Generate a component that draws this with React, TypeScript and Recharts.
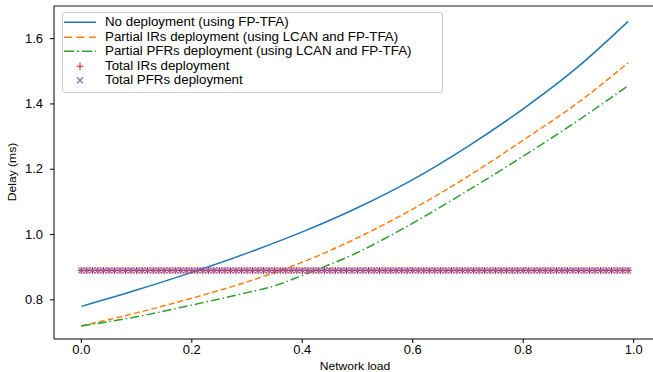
import React from 'react';
import { ComposedChart, Line, Scatter, XAxis, YAxis, ReferenceLine, Legend, Label } from 'recharts';

const FONT = '"Liberation Sans", Arial, Helvetica, sans-serif';

// Network load values for the curves
const loads = [0, 0.1, 0.2, 0.3, 0.4, 0.5, 0.6, 0.7, 0.8, 0.9, 0.99];
const noDeployment = [0.78, 0.83, 0.884, 0.943, 1.008, 1.082, 1.168, 1.27, 1.385, 1.515, 1.653];
const partialIRs = [0.72, 0.76, 0.805, 0.855, 0.915, 0.99, 1.078, 1.178, 1.289, 1.405, 1.526];
const pfrLoads = [0, 0.1, 0.2, 0.3, 0.35, 0.4, 0.5, 0.6, 0.7, 0.8, 0.9, 0.99];
const partialPFRs = [0.72, 0.748, 0.784, 0.822, 0.843, 0.875, 0.945, 1.035, 1.135, 1.24, 1.35, 1.456];

// Loads at which the total deployment markers are drawn
const markerLoads = [
  0, 0.01, 0.02, 0.03, 0.04, 0.05, 0.06, 0.07, 0.08, 0.09,
  0.1, 0.11, 0.12, 0.13, 0.14, 0.15, 0.16, 0.17, 0.18, 0.19,
  0.2, 0.21, 0.22, 0.23, 0.24, 0.25, 0.26, 0.27, 0.28, 0.29,
  0.3, 0.31, 0.32, 0.33, 0.34, 0.35, 0.36, 0.37, 0.38, 0.39,
  0.4, 0.41, 0.42, 0.43, 0.44, 0.45, 0.46, 0.47, 0.48, 0.49,
  0.5, 0.51, 0.52, 0.53, 0.54, 0.55, 0.56, 0.57, 0.58, 0.59,
  0.6, 0.61, 0.62, 0.63, 0.64, 0.65, 0.66, 0.67, 0.68, 0.69,
  0.7, 0.71, 0.72, 0.73, 0.74, 0.75, 0.76, 0.77, 0.78, 0.79,
  0.8, 0.81, 0.82, 0.83, 0.84, 0.85, 0.86, 0.87, 0.88, 0.89,
  0.9, 0.91, 0.92, 0.93, 0.94, 0.95, 0.96, 0.97, 0.98, 0.99,
];
const totalIRsDelay = 0.89;
const totalPFRsDelay = 0.89;

const xTicks = [0, 0.2, 0.4, 0.6, 0.8, 1.0];
const yTicks = [0.8, 1.0, 1.2, 1.4, 1.6];

const seriesNames = [
  'No deployment (using FP-TFA)',
  'Partial IRs deployment (using LCAN and FP-TFA)',
  'Partial PFRs deployment (using LCAN and FP-TFA)',
  'Total IRs deployment',
  'Total PFRs deployment',
];

const COLORS = ['#1f77b4', '#ff7f0e', '#2ca02c', '#d62728', '#9467bd'];

const noDepData = loads.map((x, i) => ({ x, y: noDeployment[i] }));
const irData = loads.map((x, i) => ({ x, y: partialIRs[i] }));
const pfrData = pfrLoads.map((x, i) => ({ x, y: partialPFRs[i] }));
const totalIRData = markerLoads.map((x) => ({ x, y: totalIRsDelay }));
const totalPFRData = markerLoads.map((x) => ({ x, y: totalPFRsDelay }));

const PlusShape = (props: any) => {
  const { cx, cy } = props;
  if (cx == null || cy == null) return null;
  return (
    <path
      d={`M${cx - 3.5},${cy}H${cx + 3.5}M${cx},${cy - 3.5}V${cy + 3.5}`}
      stroke={COLORS[3]}
      strokeWidth={1.2}
      fill="none"
    />
  );
};

const CrossShape = (props: any) => {
  const { cx, cy } = props;
  if (cx == null || cy == null) return null;
  return (
    <path
      d={`M${cx - 3},${cy - 3}L${cx + 3},${cy + 3}M${cx - 3},${cy + 3}L${cx + 3},${cy - 3}`}
      stroke={COLORS[4]}
      strokeWidth={1.2}
      fill="none"
    />
  );
};

const XTick = (props: any) => {
  const { x, y, payload } = props;
  return (
    <g transform={`translate(${x},${y}) scale(1.08,1)`}>
      <text x={0} y={0} dy="0.71em" textAnchor="middle" fontSize={12} fontFamily={FONT} fill="#000">
        {Number(payload.value).toFixed(1)}
      </text>
    </g>
  );
};

const YTick = (props: any) => {
  const { x, y, payload } = props;
  return (
    <g transform={`translate(${x},${y}) scale(1.08,1)`}>
      <text x={0} y={0} dy="0.355em" textAnchor="end" fontSize={12} fontFamily={FONT} fill="#000">
        {Number(payload.value).toFixed(1)}
      </text>
    </g>
  );
};

const Handle = ({ idx }: { idx: number }) => {
  const c = COLORS[idx];
  return (
    <svg width={32} height={14.5} style={{ display: 'block', flex: 'none' }}>
      {idx === 0 && <line x1={0} y1={7.25} x2={32} y2={7.25} stroke={c} strokeWidth={1.5} />}
      {idx === 1 && (
        <line x1={0} y1={7.25} x2={32} y2={7.25} stroke={c} strokeWidth={1.5} strokeDasharray="8 4.5" />
      )}
      {idx === 2 && (
        <line x1={0} y1={7.25} x2={32} y2={7.25} stroke={c} strokeWidth={1.5} strokeDasharray="10 3 2 3" />
      )}
      {idx === 3 && (
        <path d="M12.5,7.25H19.5M16,3.75V10.75" stroke={c} strokeWidth={1.2} fill="none" />
      )}
      {idx === 4 && (
        <path d="M13,4.25L19,10.25M13,10.25L19,4.25" stroke={c} strokeWidth={1.2} fill="none" />
      )}
    </svg>
  );
};

const LegendBox = () => (
  <div
    style={{
      boxSizing: 'border-box',
      width: 381,
      height: 81,
      border: '1px solid #cccccc',
      borderRadius: 3,
      background: 'rgba(255,255,255,0.8)',
      paddingTop: 2.25,
      fontFamily: FONT,
      fontSize: 12,
      color: '#000',
    }}
  >
    {seriesNames.map((name, i) => (
      <div key={name} style={{ display: 'flex', alignItems: 'center', height: 14.5, lineHeight: '14.5px' }}>
        <div style={{ marginLeft: 1 }}>
          <Handle idx={i} />
        </div>
        <span
          style={{
            marginLeft: 9,
            whiteSpace: 'nowrap',
            display: 'inline-block',
            transform: 'scaleX(1.11)',
            transformOrigin: 'left center',
          }}
        >
          {name}
        </span>
      </div>
    ))}
  </div>
);

export default function App() {
  return (
    <div style={{ position: 'absolute', left: 0, top: 0, width: 653, height: 372, overflow: 'hidden', background: '#fff' }}>
      <ComposedChart
        width={660}
        height={372}
        margin={{ top: 6, right: 4.5, bottom: 0, left: 0 }}
        style={{ fontFamily: FONT }}
      >
        <XAxis
          type="number"
          dataKey="x"
          domain={[-0.0495, 1.0395]}
          allowDataOverflow
          ticks={xTicks}
          height={33}
          tickSize={4}
          tickMargin={2.5}
          axisLine={{ stroke: '#000', strokeWidth: 1 }}
          tickLine={{ stroke: '#000', strokeWidth: 1 }}
          tick={<XTick />}
        >
          <Label
            content={() => (
              <g transform="translate(355,370) scale(1.1,1)">
                <text x={0} y={0} textAnchor="middle" fontSize={11} fontFamily={FONT} fill="#000">
                  Network load
                </text>
              </g>
            )}
          />
        </XAxis>
        <YAxis
          type="number"
          dataKey="y"
          domain={[0.68, 1.7]}
          allowDataOverflow
          ticks={yTicks}
          width={54}
          tickSize={4}
          tickMargin={7}
          axisLine={{ stroke: '#000', strokeWidth: 1 }}
          tickLine={{ stroke: '#000', strokeWidth: 1 }}
          tick={<YTick />}
        >
          <Label
            content={() => (
              <g transform="translate(12,172) rotate(-90) scale(1.1,1)">
                <text
                  x={0}
                  y={0}
                  textAnchor="middle"
                  dominantBaseline="central"
                  fontSize={11}
                  fontFamily={FONT}
                  fill="#000"
                >
                  Delay (ms)
                </text>
              </g>
            )}
          />
        </YAxis>
        <ReferenceLine y={1.7} stroke="#666" strokeWidth={1.5} />
        <Line
          data={noDepData}
          dataKey="y"
          type="monotone"
          stroke={COLORS[0]}
          strokeWidth={1.5}
          dot={false}
          isAnimationActive={false}
        />
        <Line
          data={irData}
          dataKey="y"
          type="monotone"
          stroke={COLORS[1]}
          strokeWidth={1.5}
          strokeDasharray="6 3"
          dot={false}
          isAnimationActive={false}
        />
        <Line
          data={pfrData}
          dataKey="y"
          type="monotone"
          stroke={COLORS[2]}
          strokeWidth={1.5}
          strokeDasharray="9 3 1.5 3"
          dot={false}
          isAnimationActive={false}
        />
        <Scatter data={totalIRData} dataKey="y" shape={PlusShape} isAnimationActive={false} />
        <Scatter data={totalPFRData} dataKey="y" shape={CrossShape} isAnimationActive={false} />
        <Legend
          layout="vertical"
          align="center"
          verticalAlign="middle"
          content={() => <LegendBox />}
          wrapperStyle={{ position: 'absolute', left: 62, top: 12, width: 381, height: 81 }}
        />
      </ComposedChart>
    </div>
  );
}
